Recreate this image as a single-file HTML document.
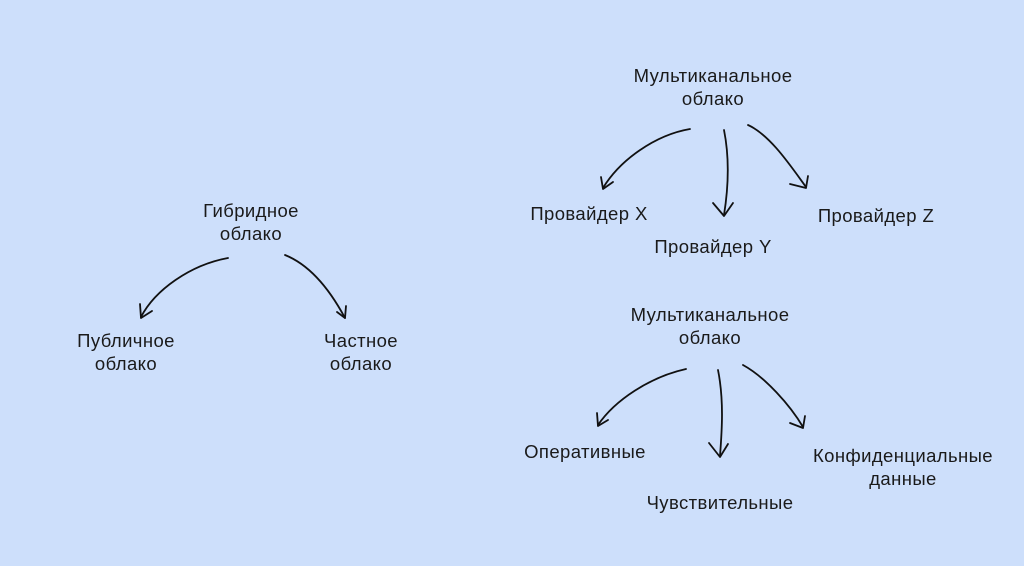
<!DOCTYPE html>
<html><head><meta charset="utf-8"><style>
body{margin:0;width:1024px;height:566px;background:#cddffb;overflow:hidden;position:relative;font-family:"Liberation Sans","DejaVu Sans",sans-serif;color:#1a1a1a}
.t{position:absolute;font-size:18.5px;letter-spacing:0.4px;line-height:23px;text-align:center;transform:translateX(-50%);white-space:nowrap}
svg{position:absolute;left:0;top:0}
</style></head><body>
<div class="t" style="left:251px;top:199px">Гибридное<br>облако</div>
<div class="t" style="left:126px;top:329px">Публичное<br>облако</div>
<div class="t" style="left:361px;top:329px">Частное<br>облако</div>
<div class="t" style="left:713px;top:64px">Мультиканальное<br>облако</div>
<div class="t" style="left:589px;top:202px">Провайдер X</div>
<div class="t" style="left:713px;top:235px">Провайдер Y</div>
<div class="t" style="left:876px;top:204px">Провайдер Z</div>
<div class="t" style="left:710px;top:303px">Мультиканальное<br>облако</div>
<div class="t" style="left:585px;top:440px">Оперативные</div>
<div class="t" style="left:720px;top:491px">Чувствительные</div>
<div class="t" style="left:903px;top:444px">Конфиденциальные<br>данные</div>
<svg width="1024" height="566" fill="none" stroke="#111" stroke-width="1.8" stroke-linecap="round" stroke-linejoin="round">
<path d="M228 258 C190 265 155 290 141 317"/><path d="M140 304 L141 318 L152 311"/>
<path d="M285 255 C310 265 330 290 345 318"/><path d="M337 312 L345 318 L346 306"/>
<path d="M690 129 C655 135 620 160 603 188"/><path d="M601 177 L603 189 L613 182"/>
<path d="M724 130 C730 160 728 190 724 215"/><path d="M713 203 L724 216 L733 203"/>
<path d="M748 125 C770 135 790 165 806 187"/><path d="M790 184 L806 188 L808 176"/>
<path d="M686 369 C650 377 615 400 598 425"/><path d="M597 413 L598 426 L608 420"/>
<path d="M718 370 C724 400 722 430 720 456"/><path d="M709 443 L720 457 L728 444"/>
<path d="M743 365 C765 377 790 405 803 427"/><path d="M790 423 L803 428 L805 416"/>
</svg>
</body></html>
